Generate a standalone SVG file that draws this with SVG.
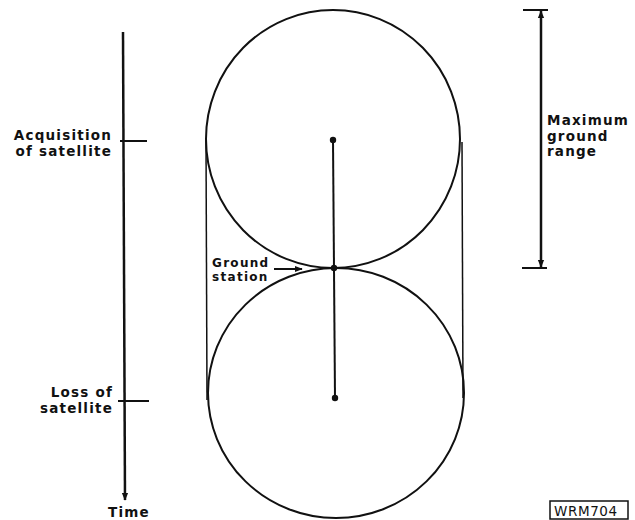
<svg xmlns="http://www.w3.org/2000/svg" width="635" height="520" viewBox="0 0 635 520">
<style>
text{font-family:"DejaVu Sans","Liberation Sans",sans-serif;font-weight:bold;font-size:13.5px;letter-spacing:1.2px;fill:#111}
.gs{font-size:12px;letter-spacing:1.3px}
.thin{stroke:#111;stroke-width:1.5;fill:none}
.med{stroke:#111;stroke-width:2;fill:none}
.thick{stroke:#111;stroke-width:2.5;fill:none}
</style>
<defs>
<marker id="ah" viewBox="0 0 10 10" refX="9" refY="5" markerWidth="8" markerHeight="8" markerUnits="userSpaceOnUse" orient="auto-start-reverse">
<path d="M0,1 L10,5 L0,9 Z" fill="#111"/>
</marker>
</defs>
<rect width="635" height="520" fill="#fff"/>
<g id="coverage">
<ellipse class="med" cx="333" cy="139" rx="127" ry="129"/>
<ellipse class="med" cx="336" cy="393" rx="128" ry="125"/>
<line class="thin" x1="206" y1="140" x2="207" y2="400"/>
<line class="thin" x1="462" y1="142" x2="463" y2="398"/>
</g>
<g id="track">
<line class="med" x1="333" y1="140" x2="335" y2="398"/>
<circle cx="333" cy="140" r="3.2" fill="#111"/>
<circle cx="334" cy="268" r="3.2" fill="#111"/>
<circle cx="335" cy="398" r="3.2" fill="#111"/>
</g>
<g id="time-axis">
<line class="thick" x1="123" y1="32" x2="125" y2="500" marker-end="url(#ah)"/>
<line class="med" x1="120" y1="141" x2="147" y2="141"/>
<line class="med" x1="118" y1="401" x2="149" y2="401"/>
<text x="112" y="140" text-anchor="end">Acquisition</text>
<text x="112" y="156" text-anchor="end">of satellite</text>
<text x="113" y="397" text-anchor="end">Loss of</text>
<text x="113" y="413" text-anchor="end">satellite</text>
<text x="129" y="517" text-anchor="middle">Time</text>
</g>
<g id="ground-station">
<text class="gs" x="212" y="267">Ground</text>
<text class="gs" x="212" y="281">station</text>
<line class="med" x1="274" y1="269" x2="302" y2="269" marker-end="url(#ah)"/>
</g>
<g id="range">
<line class="med" x1="523" y1="10" x2="548" y2="10"/>
<line class="med" x1="522" y1="268" x2="547" y2="268"/>
<line class="thick" x1="541" y1="11" x2="541" y2="267" marker-start="url(#ah)" marker-end="url(#ah)"/>
<text x="547" y="125">Maximum</text>
<text x="547" y="141">ground</text>
<text x="547" y="156">range</text>
</g>
<g id="label">
<rect x="550" y="501" width="78" height="18" fill="none" stroke="#111" stroke-width="1.5"/>
<text x="554" y="516" style="font-weight:normal;font-size:13.5px;letter-spacing:0.6px">WRM704</text>
</g>
</svg>
